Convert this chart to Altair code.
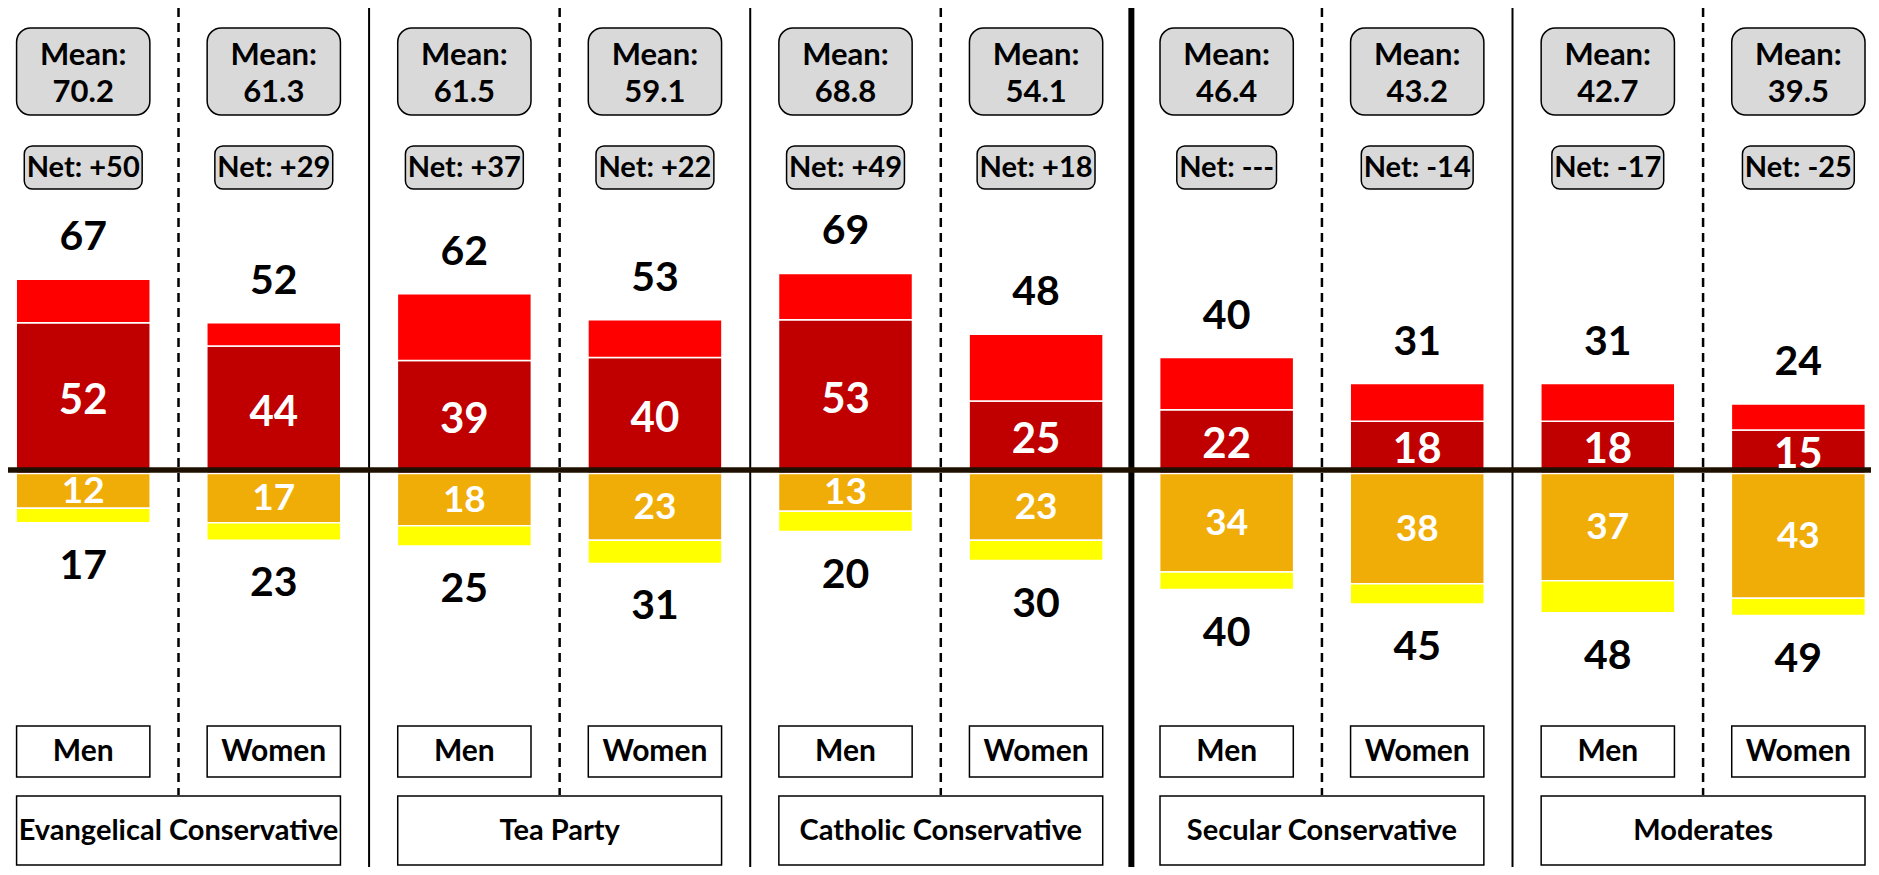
import altair as alt
import pandas as pd

# ---------------- data ----------------
groups = ["Evangelical Conservative", "Tea Party", "Catholic Conservative",
          "Secular Conservative", "Moderates"]
genders = ["Men", "Women"]
mean_scores = [70.2, 61.3, 61.5, 59.1, 68.8, 54.1, 46.4, 43.2, 42.7, 39.5]
net_labels = ["+50", "+29", "+37", "+22", "+49", "+18", "---", "-14", "-17", "-25"]
total_favorable = [67, 52, 62, 53, 69, 48, 40, 31, 31, 24]
very_favorable = [52, 44, 39, 40, 53, 25, 22, 18, 18, 15]
total_unfavorable = [17, 23, 25, 31, 20, 30, 40, 45, 48, 49]
very_unfavorable = [12, 17, 18, 23, 13, 23, 34, 38, 37, 43]

segments = ["Very favorable", "Somewhat favorable", "Very unfavorable", "Somewhat unfavorable"]
segment_colors = ["#C00000", "#FF0000", "#F0AD08", "#FFFF00"]

# ---------------- layout constants ----------------
W, H = 1863, 859
STEP = 191.6      # px per column
C0 = 70.6         # px centre of first column
HALF = 67.0       # half bar width (px)
ZERO_Y = 465.5    # px of value 0
PPU = 2.9         # px per percentage point
FONT = "Lato"

x_scale = alt.Scale(domain=[-C0 / STEP, (W - C0) / STEP], range=[0, W], nice=False, zero=False)
y_scale = alt.Scale(domain=[-(H - ZERO_Y) / PPU, ZERO_Y / PPU], range=[H, 0], nice=False, zero=False)

# rough Lato Bold advance widths (em) to size the Net boxes around their text
CHAR_W = {"N": 0.76, "e": 0.54, "t": 0.37, ":": 0.27, " ": 0.2, "+": 0.58, "-": 0.37}
NET_SIZE = 29


def text_width(s, size):
    return sum(CHAR_W.get(ch, 0.58) for ch in s) * size


# ---------------- tables ----------------
col_rows = []
for gi, g in enumerate(groups):
    for si, s in enumerate(genders):
        i = gi * 2 + si
        net_txt = "Net: " + net_labels[i]
        half_net = (text_width(net_txt, NET_SIZE) / 2 + 3) / STEP
        col_rows.append(dict(
            idx=i, group=g, gender=s,
            mean_txt=f"{mean_scores[i]:.1f}", net_txt=net_txt,
            net_l=i - half_net, net_r=i + half_net,
            box_l=i - HALF / STEP, box_r=i + HALF / STEP,
            tot_fav=total_favorable[i], tot_unf=-total_unfavorable[i],
            vf=very_favorable[i], vu=very_unfavorable[i],
            vf_mid=very_favorable[i] / 2, vu_mid=-very_unfavorable[i] / 2,
        ))
cols = pd.DataFrame(col_rows)

seg_rows = []
for i in range(len(col_rows)):
    seg_rows.append(dict(idx=i, seg=segments[0], lo=0, hi=very_favorable[i]))
    seg_rows.append(dict(idx=i, seg=segments[1], lo=very_favorable[i], hi=total_favorable[i]))
for i in range(len(col_rows)):
    seg_rows.append(dict(idx=i, seg=segments[2], lo=0, hi=-very_unfavorable[i]))
    seg_rows.append(dict(idx=i, seg=segments[3], lo=-very_unfavorable[i], hi=-total_unfavorable[i]))
bars_df = pd.DataFrame(seg_rows)

grp_rows = []
for gi, g in enumerate(groups):
    grp_rows.append(dict(group=g, xc=gi * 2 + 0.5,
                         gl=gi * 2 - HALF / STEP, gr=gi * 2 + 1 + HALF / STEP))
grp = pd.DataFrame(grp_rows)

sep_rows = []
for b in range(1, len(col_rows)):
    kind = "dash" if b % 2 == 1 else ("thick" if b == 6 else "solid")
    sep_rows.append(dict(xb=b - 0.5, kind=kind))
seps = pd.DataFrame(sep_rows)

X = lambda f: alt.X(f"{f}:Q", scale=x_scale, axis=None)
Y = lambda f: alt.Y(f"{f}:Q", scale=y_scale, axis=None)

# ---------------- layers ----------------
dash_rules = alt.Chart(seps).transform_filter("datum.kind == 'dash'").mark_rule(
    color="black", strokeWidth=2.5, strokeDash=[9, 6]
).encode(x=X("xb"), y=alt.value(0), y2=alt.value(787))

solid_rules = alt.Chart(seps).transform_filter("datum.kind == 'solid'").mark_rule(
    color="black", strokeWidth=2
).encode(x=X("xb"), y=alt.value(0), y2=alt.value(H))

thick_rules = alt.Chart(seps).transform_filter("datum.kind == 'thick'").mark_rule(
    color="black", strokeWidth=6
).encode(x=X("xb"), y=alt.value(0), y2=alt.value(H))

bars = alt.Chart(bars_df).mark_bar(width=2 * HALF, stroke="white", strokeWidth=1.5).encode(
    x=X("idx"),
    y=Y("lo"),
    y2="hi",
    color=alt.Color("seg:N", scale=alt.Scale(domain=segments, range=segment_colors), legend=None),
)

baseline = alt.Chart(pd.DataFrame({"v": [0]})).mark_rule(
    color="#1E1000", strokeWidth=5.5, yOffset=-3.5
).encode(y=Y("v"), x=alt.value(0), x2=alt.value(W))

base = alt.Chart(cols)

top_lbl = base.mark_text(font=FONT, fontWeight="bold", fontSize=41, baseline="middle",
                         dy=-41, color="black").encode(x=X("idx"), y=Y("tot_fav"), text="tot_fav:Q")
bot_lbl = base.mark_text(font=FONT, fontWeight="bold", fontSize=41, baseline="middle",
                         dy=44, color="black").encode(
    x=X("idx"), y=Y("tot_unf"), text=alt.Text("neg_lbl:N")
).transform_calculate(neg_lbl="-datum.tot_unf")
vf_lbl = base.mark_text(font=FONT, fontWeight="bold", fontSize=42, baseline="middle",
                        dy=3, color="white").encode(x=X("idx"), y=Y("vf_mid"), text="vf:Q")
vu_lbl = base.mark_text(font=FONT, fontWeight="bold", fontSize=37, baseline="middle",
                        dy=1, color="white").encode(x=X("idx"), y=Y("vu_mid"), text="vu:Q")

mean_box = base.mark_rect(fill="#D9D9D9", stroke="black", strokeWidth=1.5, cornerRadius=14).encode(
    x=X("box_l"), x2="box_r", y=alt.value(20), y2=alt.value(107))
mean_t1 = base.mark_text(font=FONT, fontWeight="bold", fontSize=31, baseline="middle",
                         color="black").encode(x=X("idx"), y=alt.value(48), text=alt.value("Mean:"))
mean_t2 = base.mark_text(font=FONT, fontWeight="bold", fontSize=31, baseline="middle",
                         color="black").encode(x=X("idx"), y=alt.value(85), text="mean_txt:N")

net_box = base.mark_rect(fill="#D9D9D9", stroke="black", strokeWidth=1.5, cornerRadius=8).encode(
    x=X("net_l"), x2="net_r", y=alt.value(138), y2=alt.value(181))
net_t = base.mark_text(font=FONT, fontWeight="bold", fontSize=NET_SIZE, baseline="middle",
                       color="black").encode(x=X("idx"), y=alt.value(160), text="net_txt:N")

gender_box = base.mark_rect(fill="white", stroke="black", strokeWidth=1.5).encode(
    x=X("box_l"), x2="box_r", y=alt.value(718), y2=alt.value(769))
gender_t = base.mark_text(font=FONT, fontWeight="bold", fontSize=30, baseline="middle",
                          color="black").encode(x=X("idx"), y=alt.value(744), text="gender:N")

grp_box = alt.Chart(grp).mark_rect(fill="white", stroke="black", strokeWidth=1.5).encode(
    x=X("gl"), x2="gr", y=alt.value(788), y2=alt.value(857))
grp_t = alt.Chart(grp).mark_text(font=FONT, fontWeight="bold", fontSize=29, baseline="middle",
                                 color="black").encode(x=X("xc"), y=alt.value(823), text="group:N")

chart = alt.layer(
    dash_rules, solid_rules, thick_rules,
    bars, baseline,
    top_lbl, bot_lbl, vf_lbl, vu_lbl,
    mean_box, mean_t1, mean_t2, net_box, net_t,
    gender_box, gender_t, grp_box, grp_t,
).properties(
    width=W, height=H, padding=0, autosize="none", background="white"
).configure_view(strokeWidth=0)

chart.save("out.html", embed_options={"renderer": "svg", "actions": False})
